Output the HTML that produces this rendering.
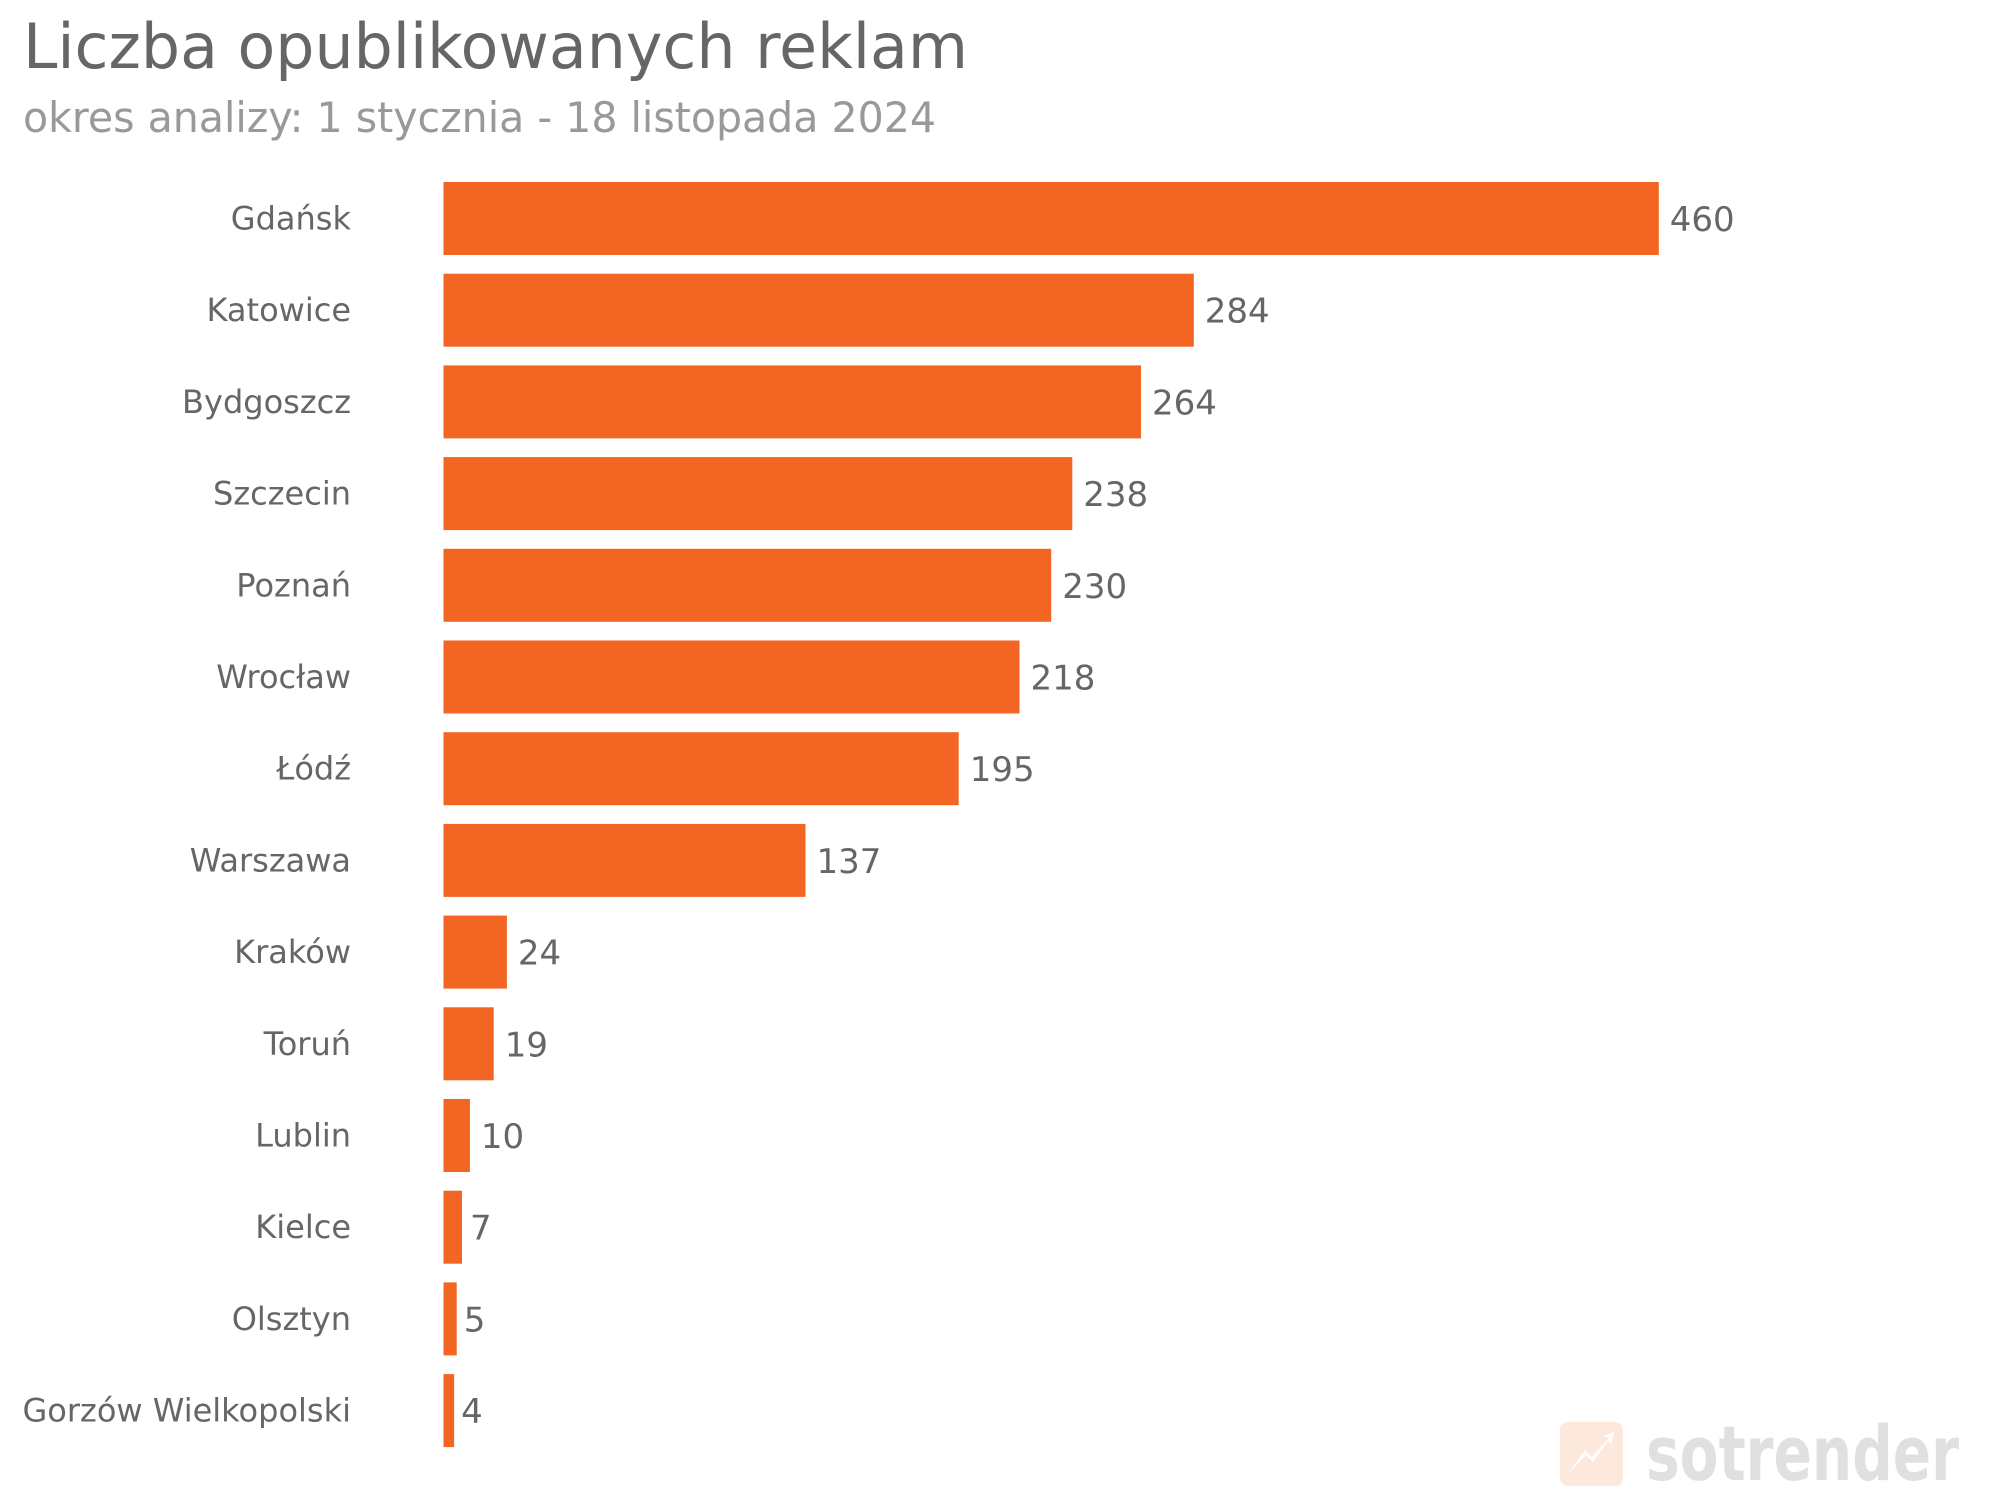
<!DOCTYPE html>
<html><head><meta charset="utf-8"><style>
html,body{margin:0;padding:0;background:#fff;}
svg{display:block;}
text{font-family:"DejaVu Sans","Liberation Sans",sans-serif;}
</style></head><body>
<svg width="1999" height="1500" viewBox="0 0 1999 1500" xmlns="http://www.w3.org/2000/svg">
<rect width="1999" height="1500" fill="#fff"/>
<text x="23" y="68" font-size="62" fill="#666" textLength="945" lengthAdjust="spacingAndGlyphs">Liczba opublikowanych reklam</text>
<text x="23" y="132" font-size="42" fill="#999" textLength="913" lengthAdjust="spacingAndGlyphs">okres analizy: 1 stycznia - 18 listopada 2024</text>
<g fill="#F26522">
<rect x="443.5" y="182" width="1215.3" height="73"/>
<rect x="443.5" y="273.7" width="750.3" height="73"/>
<rect x="443.5" y="365.4" width="697.5" height="73"/>
<rect x="443.5" y="457.1" width="628.8" height="73"/>
<rect x="443.5" y="548.8" width="607.7" height="73"/>
<rect x="443.5" y="640.5" width="576" height="73"/>
<rect x="443.5" y="732.2" width="515.2" height="73"/>
<rect x="443.5" y="823.9" width="362" height="73"/>
<rect x="443.5" y="915.6" width="63.4" height="73"/>
<rect x="443.5" y="1007.3" width="50.2" height="73"/>
<rect x="443.5" y="1099" width="26.4" height="73"/>
<rect x="443.5" y="1190.7" width="18.5" height="73"/>
<rect x="443.5" y="1282.4" width="13.2" height="73"/>
<rect x="443.5" y="1374.1" width="10.6" height="73"/>
</g>
<g font-size="32" fill="#666" text-anchor="end">
<text x="351" y="229.5">Gdańsk</text>
<text x="351" y="321.2">Katowice</text>
<text x="351" y="412.9">Bydgoszcz</text>
<text x="351" y="504.6">Szczecin</text>
<text x="351" y="596.3">Poznań</text>
<text x="351" y="688">Wrocław</text>
<text x="351" y="779.7">Łódź</text>
<text x="351" y="871.4">Warszawa</text>
<text x="351" y="963.1">Kraków</text>
<text x="351" y="1054.8">Toruń</text>
<text x="351" y="1146.5">Lublin</text>
<text x="351" y="1238.2">Kielce</text>
<text x="351" y="1329.9">Olsztyn</text>
<text x="351" y="1421.6">Gorzów Wielkopolski</text>
</g>
<g font-size="34" fill="#666">
<text x="1669.8" y="231">460</text>
<text x="1204.8" y="322.7">284</text>
<text x="1152" y="414.4">264</text>
<text x="1083.3" y="506.1">238</text>
<text x="1062.2" y="597.8">230</text>
<text x="1030.5" y="689.5">218</text>
<text x="969.7" y="781.2">195</text>
<text x="816.5" y="872.9">137</text>
<text x="517.9" y="964.6">24</text>
<text x="504.7" y="1056.3">19</text>
<text x="480.9" y="1148">10</text>
<text x="470" y="1239.7">7</text>
<text x="463.7" y="1331.4">5</text>
<text x="461.1" y="1423.1">4</text>
</g>
<rect x="1560" y="1422" width="63" height="64" rx="8" fill="#fde8dc"/>
<path d="M1568 1474 L1585 1450 L1592 1457 L1609 1438 L1603 1436 L1614 1432 L1611 1445 L1608 1441 L1593 1462 L1586 1455 Z" fill="#fff"/>
<text x="1646" y="1480" font-family="Liberation Sans" font-weight="bold" font-size="76" fill="#e0e0e0" textLength="313" lengthAdjust="spacingAndGlyphs">sotrender</text>
</svg>
</body></html>
